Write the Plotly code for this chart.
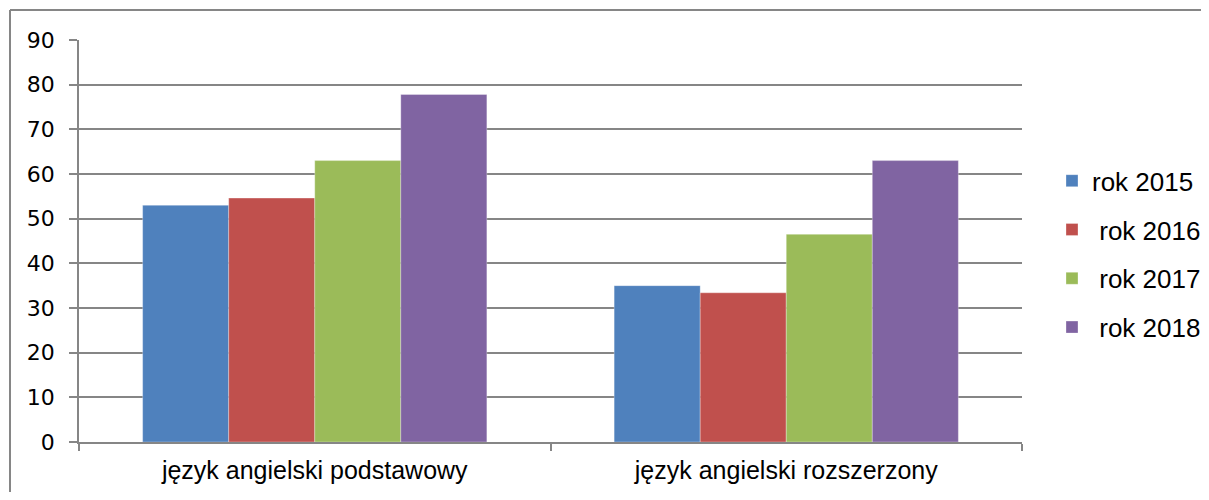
import plotly.graph_objects as go

categories = ["język angielski podstawowy", "język angielski rozszerzony"]
series_names = ["rok 2015", "\u00a0rok 2016", "\u00a0rok 2017", "\u00a0rok 2018"]
rok_2015 = [53.0, 35.0]
rok_2016 = [54.6, 33.4]
rok_2017 = [63.0, 46.5]
rok_2018 = [77.8, 63.0]
y_ticks = [0, 10, 20, 30, 40, 50, 60, 70, 80, 90]

colors = ["#4F81BD", "#C0504D", "#9BBB59", "#8064A2"]
values = [rok_2015, rok_2016, rok_2017, rok_2018]

W, H = 1193, 484
L, R, T, B = 71, 179, 32, 50
PW, PH = W - L - R, H - T - B

fig = go.Figure()
for i, (name, vals) in enumerate(zip(series_names, values)):
    fig.add_trace(go.Bar(
        x=categories, y=vals, name=name,
        marker=dict(color=colors[i], line=dict(color="rgba(255,255,255,0.5)", width=0.6)),
        legendgroup=f"g{i}",
    ))

border_color = "#868686"
fig.update_layout(
    width=W, height=H,
    margin=dict(l=L, r=R, t=T, b=B, autoexpand=False),
    paper_bgcolor="white", plot_bgcolor="white",
    barmode="group", bargap=0.27, bargroupgap=0,
    font=dict(family="Liberation Sans", color="black"),
    legend=dict(
        x=1 + 30 / PW, y=0.467, xanchor="left", yanchor="middle",
        font=dict(family="Liberation Sans", size=26, color="black"),
        tracegroupgap=12, itemwidth=30,
    ),
    shapes=[
        dict(type="line", xref="paper", yref="paper",
             x0=-(L - 2) / PW, x1=(W - L) / PW, y0=1 + (T - 2) / PH, y1=1 + (T - 2) / PH,
             line=dict(color=border_color, width=2)),
        dict(type="line", xref="paper", yref="paper",
             x0=-(L - 2) / PW, x1=-(L - 2) / PW, y0=1 + (T - 2) / PH, y1=-(B + 20) / PH,
             line=dict(color=border_color, width=2)),
    ],
)

fig.update_xaxes(
    showline=True, linecolor=border_color, linewidth=1.5,
    ticks="outside", ticklen=7, tickcolor=border_color, tickwidth=1.5,
    tickson="boundaries", showgrid=False,
    tickfont=dict(family="Liberation Sans", size=25, color="black"),
    ticklabelstandoff=5,
)
fig.update_yaxes(
    range=[0, 90], tickvals=y_ticks,
    showline=True, linecolor=border_color, linewidth=1.5,
    ticks="outside", ticklen=8, tickcolor=border_color, tickwidth=1.5,
    showgrid=True, gridcolor=border_color, gridwidth=1.5,
    zeroline=False,
    tickfont=dict(family="DejaVu Sans", size=22, color="black"),
    ticklabelstandoff=10,
)

fig.write_html("out.html")
